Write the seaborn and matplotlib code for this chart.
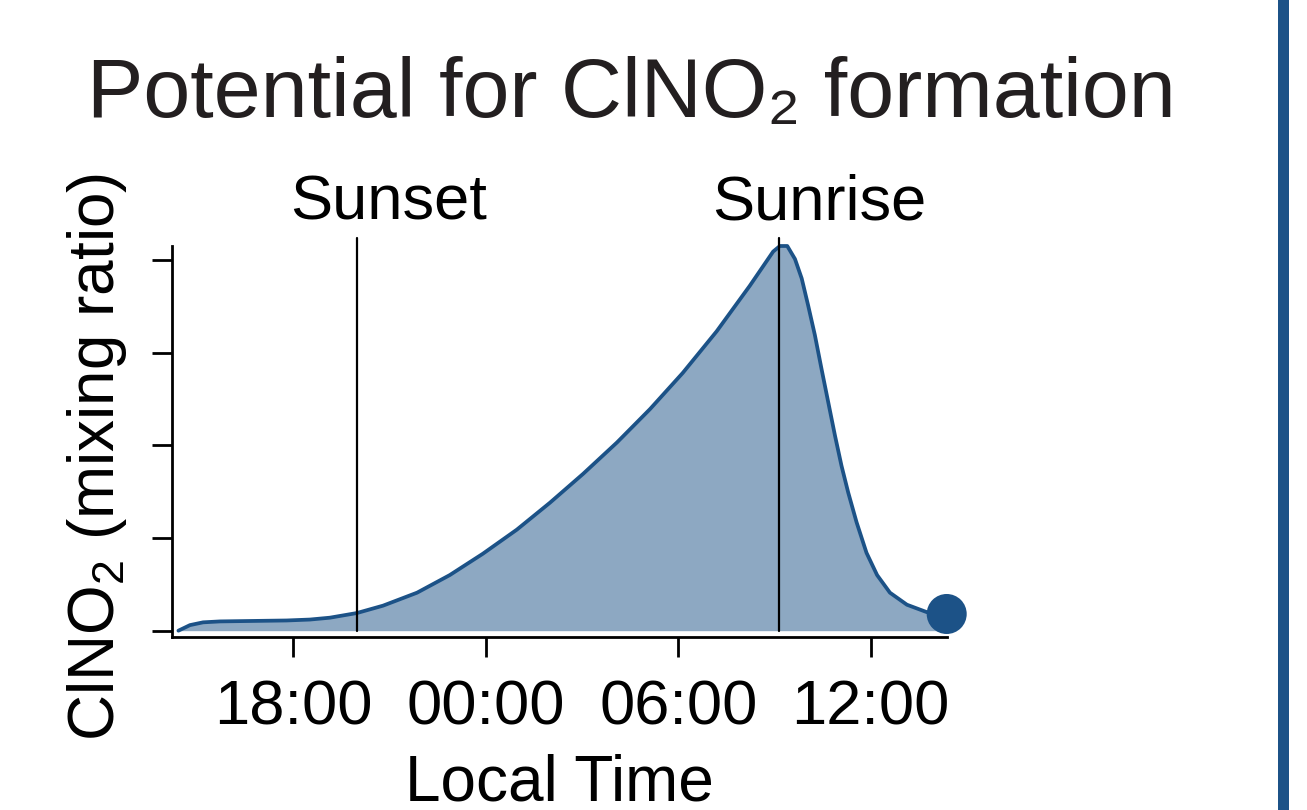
import numpy as np
import pandas as pd
import seaborn as sns
import matplotlib.pyplot as plt
from matplotlib.patches import Rectangle

# ---- data ----
hours = [14.42, 14.78, 15.19, 15.72, 16.75, 17.79, 18.52, 19.14, 19.98, 20.80,
         21.86, 22.88, 23.91, 24.97, 26.00, 27.03, 28.09, 29.12, 30.14, 31.20,
         32.23, 32.96, 33.17, 33.40, 33.64, 33.85, 34.05, 34.26, 34.47, 34.68,
         34.89, 35.09, 35.30, 35.56, 35.87, 36.20, 36.60, 37.13, 37.75, 38.37]
clno2 = [0.00, 0.06, 0.09, 0.10, 0.105, 0.11, 0.12, 0.14, 0.19, 0.27,
         0.41, 0.60, 0.83, 1.09, 1.38, 1.69, 2.03, 2.39, 2.78, 3.23,
         3.72, 4.09, 4.15, 4.15, 4.01, 3.80, 3.51, 3.19, 2.82, 2.46,
         2.10, 1.78, 1.49, 1.17, 0.84, 0.60, 0.41, 0.28, 0.20, 0.18]
tick_hours = [18, 24, 30, 36]
tick_labels = ["18:00", "00:00", "06:00", "12:00"]
ytick_values = [0, 1, 2, 3, 4]
event_names = ["Sunset", "Sunrise"]
event_hours = [20.0, 33.15]

df = pd.DataFrame({"hour": hours, "clno2": clno2})

sns.set_style("ticks")
plt.rcParams["font.family"] = ["Liberation Sans", "DejaVu Sans"]
plt.rcParams["mathtext.fontset"] = "custom"
plt.rcParams["mathtext.rm"] = "Liberation Sans"
plt.rcParams["mathtext.it"] = "Liberation Sans:italic"
plt.rcParams["text.color"] = "black"
plt.rcParams["axes.labelcolor"] = "black"

BLUE = "#1c5287"
W, H = 1307, 810
fig = plt.figure(figsize=(W / 100, H / 100), dpi=100)
ax = fig.add_axes([172 / W, 1 - 636.7 / H, 774.7 / W, 390.7 / H])

ax.fill_between(df["hour"], 0, df["clno2"], color=BLUE, alpha=0.5, lw=0)
sns.lineplot(data=df, x="hour", y="clno2", ax=ax, color=BLUE, lw=2.7)
for ln in ax.lines:
    ln.set_clip_on(False)
    ln.set_solid_joinstyle("round")
sns.scatterplot(data=df.iloc[[-1]], x="hour", y="clno2", ax=ax, color=BLUE,
                s=830, edgecolor="none", clip_on=False, zorder=5)

for name, h in zip(event_names, event_hours):
    ax.plot([h, h], [0, 4.24], color="black", lw=1.6, clip_on=False, zorder=4)
    ax.text(h - 2.09, 4.44, name, ha="left", va="baseline", fontsize=45.5,
            color="black", clip_on=False)

ax.set_xlim(14.22, 38.37)
ax.set_ylim(-0.065, 4.15)
ax.set_xticks(tick_hours)
ax.set_xticklabels(tick_labels)
ax.set_yticks(ytick_values)
ax.set_yticklabels([])
ax.tick_params(axis="both", length=14.4, width=2, labelsize=45.5, pad=16, colors="black")
for s in ["left", "bottom"]:
    ax.spines[s].set_linewidth(2)
    ax.spines[s].set_color("black")
sns.despine(ax=ax)

ax.set_xlabel("Local Time", fontsize=46, labelpad=11)
ax.set_ylabel("ClNO$_2$ (mixing ratio)", fontsize=46)
ax.yaxis.set_label_coords(-0.055, 0.46)

fig.text(631 / W, 1 - 117 / H, "Potential for ClNO\u2082 formation",
         ha="center", va="baseline", fontsize=60.8, color="#231f20")

fig.add_artist(Rectangle((1278 / W, 0), 10.5 / W, 1, transform=fig.transFigure,
                         color=BLUE, lw=0))

fig.savefig("out.png", dpi=100)
